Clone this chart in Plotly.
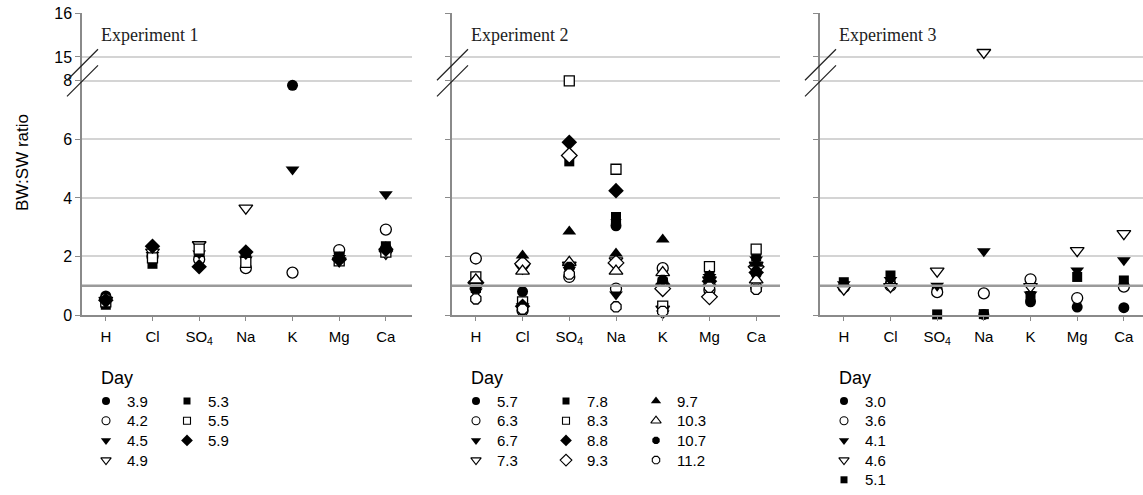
import plotly.graph_objects as go

W, H = 1143, 495

# ---------------- data ----------------
ions = ["H", "Cl", "SO<sub>4</sub>", "Na", "K", "Mg", "Ca"]
y_tick_values = [0, 2, 4, 6, 8, 15, 16]
y_tick_labels = ["0", "2", "4", "6", "8", "15", "16"]
experiments = ["Experiment 1", "Experiment 2", "Experiment 3"]

# Experiment 1 (day -> BW:SW ratio per ion)
exp1_days = ["3.9", "4.2", "4.5", "4.9", "5.3", "5.5", "5.9"]
exp1_d3_9 = [0.65, 2.10, 2.00, 2.00, 7.85, 2.10, 2.30]
exp1_d4_2 = [0.55, 2.00, 1.90, 1.60, 1.45, 2.22, 2.92]
exp1_d4_5 = [0.45, 2.05, 2.10, 1.90, 4.97, 1.95, 4.13]
exp1_d4_9 = [0.50, 2.15, 2.40, 3.65, None, 1.85, 2.10]
exp1_d5_3 = [0.35, 1.75, 2.15, 2.05, None, 2.00, 2.35]
exp1_d5_5 = [0.45, 1.95, 2.25, 1.80, None, 1.85, 2.15]
exp1_d5_9 = [0.50, 2.35, 1.65, 2.15, None, 1.90, 2.25]

# Experiment 2
exp2_days = ["5.7", "6.3", "6.7", "7.3", "7.8", "8.3", "8.8", "9.3", "9.7", "10.3", "10.7", "11.2"]
exp2_d5_7 = [0.90, 0.80, 1.60, 3.05, 1.15, 1.10, 1.40]
exp2_d6_3 = [1.93, 0.15, 1.30, 0.90, 1.60, 0.85, 0.95]
exp2_d6_7 = [0.80, 0.30, 1.55, 0.70, 0.05, 1.30, 1.90]
exp2_d7_3 = [1.05, 1.60, 1.70, 1.85, 0.20, 1.20, 1.70]
exp2_d7_8 = [0.95, 0.35, 5.25, 3.35, 1.10, 1.50, 2.00]
exp2_d8_3 = [1.30, 0.45, 8.00, 4.98, 0.30, 1.65, 2.25]
exp2_d8_8 = [1.00, 0.30, 5.90, 4.25, 1.05, 1.15, 1.45]
exp2_d9_3 = [1.10, 1.75, 5.45, 1.78, 0.90, 0.62, 1.65]
exp2_d9_7 = [1.15, 2.03, 2.85, 2.10, 2.58, 1.35, 1.75]
exp2_d10_3 = [1.20, 1.50, 1.80, 1.50, 1.45, 1.10, 1.20]
exp2_d10_7 = [0.85, 0.30, 1.65, 3.20, 1.20, 1.20, 1.50]
exp2_d11_2 = [0.55, 0.20, 1.40, 0.28, 0.12, 0.95, 0.88]

# Experiment 3
exp3_days = ["3.0", "3.6", "4.1", "4.6", "5.1"]
exp3_d3_0 = [1.00, 1.10, 0.90, 0.02, 0.45, 0.27, 0.25]
exp3_d3_6 = [0.95, 1.00, 0.78, 0.74, 1.22, 0.58, 0.97]
exp3_d4_1 = [1.05, 1.20, 1.00, 2.18, 0.70, 1.52, 1.87]
exp3_d4_6 = [0.88, 0.97, 1.50, 15.1, 0.97, 2.20, 2.78]
exp3_d5_1 = [1.12, 1.35, 0.02, 0.03, 0.65, 1.30, 1.18]

panels = [
    (exp1_days, [exp1_d3_9, exp1_d4_2, exp1_d4_5, exp1_d4_9, exp1_d5_3, exp1_d5_5, exp1_d5_9]),
    (exp2_days, [exp2_d5_7, exp2_d6_3, exp2_d6_7, exp2_d7_3, exp2_d7_8, exp2_d8_3, exp2_d8_8,
                 exp2_d9_3, exp2_d9_7, exp2_d10_3, exp2_d10_7, exp2_d11_2]),
    (exp3_days, [exp3_d3_0, exp3_d3_6, exp3_d4_1, exp3_d4_6, exp3_d5_1]),
]

# ---------------- styles ----------------
STYLE_CYCLE = [
    ("circle", True), ("circle", False), ("triangle-down", True), ("triangle-down", False),
    ("square", True), ("square", False), ("diamond", True), ("diamond", False),
    ("triangle-up", True), ("triangle-up", False), ("octagon", True), ("octagon", False),
]
SIZE = {"circle": 11, "triangle-down": 12, "triangle-up": 12, "square": 10,
        "diamond": 12, "octagon": 11}


def brk(v):
    """Broken-axis transform: 0-8 linear, 8-15 compressed, 15-16 expanded."""
    if v is None:
        return None
    if v <= 8:
        return v
    if v <= 15:
        return 8 + (v - 8) * 0.82 / 7
    return 8.82 + (v - 15) * 1.5


Y_TOP = brk(16)
AX_PX = [82, 452, 820]       # left axis positions
AX_END = [412, 780, 1143]
X_RANGES = [[-0.51, 6.56], [-0.51, 6.51], [-0.51, 6.41]]
Y_TOP_PX, Y_BOT_PX = 13, 315
FONT = "Liberation Sans, Arial, sans-serif"
AXIS_COL = "#8a8a8a"
GRID_COL = "#d4d4d4"


def px2x(px):
    return px / W


def py2y(py):
    return 1 - py / H


fig = go.Figure()
layout_axes = {}

for i, (days, series) in enumerate(panels):
    n = "" if i == 0 else str(i + 1)
    xa, ya = "x" + n, "y" + n
    for d, vals, (sym, filled) in zip(days, series, STYLE_CYCLE):
        fig.add_trace(go.Scatter(
            x=list(range(len(ions))), y=[brk(v) for v in vals],
            mode="markers", name=d, showlegend=False, cliponaxis=False,
            xaxis=xa, yaxis=ya,
            marker=dict(symbol=sym, size=SIZE[sym],
                        color="black" if filled else "white",
                        line=dict(color="black", width=0 if filled else 1.3)),
        ))
    layout_axes["xaxis" + n] = dict(
        domain=[px2x(AX_PX[i]), px2x(AX_END[i])], range=X_RANGES[i],
        anchor=ya, tickmode="array", tickvals=list(range(len(ions))), ticktext=ions,
        showgrid=False, zeroline=False, showline=True, linecolor=AXIS_COL, linewidth=1.5,
        ticks="outside", ticklen=4, tickcolor=AXIS_COL, tickwidth=1,
        tickfont=dict(family=FONT, size=15, color="black"), ticklabelstandoff=3,
        fixedrange=True, automargin=False,
    )
    layout_axes["yaxis" + n] = dict(
        domain=[py2y(Y_BOT_PX), py2y(Y_TOP_PX)], range=[0, Y_TOP], anchor=xa,
        tickmode="array", tickvals=[brk(v) for v in y_tick_values], ticktext=y_tick_labels,
        showticklabels=(i == 0), showgrid=True, gridcolor=GRID_COL, gridwidth=1.5,
        zeroline=False, showline=True, linecolor=AXIS_COL, linewidth=1.5,
        ticks="outside", ticklen=5, tickcolor=AXIS_COL, tickwidth=1,
        tickfont=dict(family=FONT, size=16, color="black"), fixedrange=True,
        automargin=False,
    )

# overlay axis for legend markers (pixel-like coordinates)
layout_axes["xaxis4"] = dict(domain=[0, 1], range=[0, W], visible=False, fixedrange=True,
                             automargin=False, anchor="y4")
layout_axes["yaxis4"] = dict(domain=[0, 1], range=[H, 0], visible=False, fixedrange=True,
                             anchor="x4", automargin=False)

shapes = []
annotations = []
for i in range(3):
    n = "" if i == 0 else str(i + 1)
    # reference line at ratio = 1
    shapes.append(dict(type="line", xref="x" + n + " domain", yref="y" + n,
                       x0=0, x1=1, y0=brk(1), y1=brk(1),
                       line=dict(color="#9a9a9a", width=2.5), layer="above"))
    # axis-break slashes
    ax = px2x(AX_PX[i])
    for cy in (brk(8), brk(8) + 0.55):
        cpy = Y_BOT_PX - (Y_BOT_PX - Y_TOP_PX) * cy / Y_TOP
        shapes.append(dict(type="line", xref="paper", yref="paper",
                           x0=ax - px2x(15), x1=ax + px2x(16),
                           y0=py2y(cpy + 15.5), y1=py2y(cpy - 15.5),
                           line=dict(color="#222", width=1.3)))
    annotations.append(dict(text=experiments[i], xref="paper", yref="paper",
                            x=px2x(AX_PX[i] + 17), y=py2y(35), xanchor="left", yanchor="middle",
                            showarrow=False,
                            font=dict(family="Liberation Serif, Times New Roman, serif", size=18, color="#222")))

# y-axis title
annotations.append(dict(text="BW:SW ratio", xref="paper", yref="paper", x=px2x(22), y=py2y(163),
                        textangle=-90, showarrow=False, xanchor="center", yanchor="middle",
                        font=dict(family=FONT, size=17, color="black")))

# ---------------- legends (manual, column-major) ----------------
LEG_ROWS = [4, 4, 5]
LEG_COLSP = [81, 90, 90]
LEG_ROW0, LEG_ROWSP = 401, 19.7
for i, (days, series) in enumerate(panels):
    x0 = AX_PX[i] + 24
    annotations.append(dict(text="Day", xref="paper", yref="paper", x=px2x(AX_PX[i] + 17), y=py2y(378),
                            xanchor="left", yanchor="middle", showarrow=False,
                            font=dict(family=FONT, size=18, color="black")))
    for k, (d, (sym, filled)) in enumerate(zip(days, STYLE_CYCLE)):
        col, row = divmod(k, LEG_ROWS[i])
        mx = x0 + col * LEG_COLSP[i]
        my = LEG_ROW0 + row * LEG_ROWSP
        fig.add_trace(go.Scatter(
            x=[mx], y=[my], mode="markers", xaxis="x4", yaxis="y4", showlegend=False,
            cliponaxis=False, hoverinfo="skip",
            marker=dict(symbol=sym, size=SIZE[sym] - 3,
                        color="black" if filled else "white",
                        line=dict(color="black", width=0 if filled else 1.1)),
        ))
        annotations.append(dict(text=d, xref="paper", yref="paper", x=px2x(mx + 19), y=py2y(my),
                                xanchor="left", yanchor="middle", showarrow=False,
                                font=dict(family=FONT, size=15, color="black")))

fig.update_layout(
    width=W, height=H, margin=dict(l=0, r=0, t=0, b=0, pad=0, autoexpand=False),
    paper_bgcolor="white", plot_bgcolor="rgba(0,0,0,0)",
    showlegend=False, shapes=shapes, annotations=annotations,
    **layout_axes,
)

fig.write_html(
    "out.html",
    config={"displayModeBar": False},
    post_script="document.body.style.margin='0';document.body.style.padding='0';"
                "document.body.style.overflow='hidden';",
)
